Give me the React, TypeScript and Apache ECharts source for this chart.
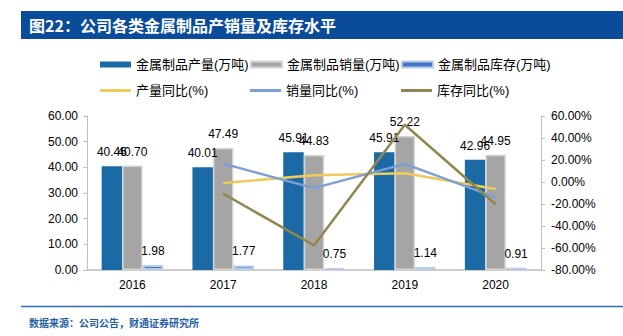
import React, { useEffect, useRef } from "react";
import * as echarts from "echarts";

const categories = ["2016", "2017", "2018", "2019", "2020"];
const production = [40.46, 40.01, 45.91, 45.91, 42.96];
const sales = [40.7, 47.49, 44.83, 52.22, 44.95];
const stock = [1.98, 1.77, 0.75, 1.14, 0.91];
const productionYoY = [null, -0.9, 6.1, 7.9, -6.4];
const salesYoY = [null, 16.68, -5.6, 16.48, -13.92];
const stockYoY = [null, -10.61, -57.63, 52.0, -20.18];

const FONT = "'Liberation Sans', Arial, 'Noto Sans CJK SC', sans-serif";

export default function App() {
  const ref = useRef<HTMLDivElement>(null);
  useEffect(() => {
    if (!ref.current) return;
    const chart = echarts.init(ref.current, null, { renderer: "svg" });
    const labelCfg = {
      show: true,
      position: "top",
      distance: 8,
      fontSize: 12,
      color: "#000",
      fontFamily: FONT,
      formatter: (p: any) => Number(p.value).toFixed(2),
    };
    const legendBase = {
      orient: "horizontal",
      padding: 0,
      itemWidth: 31,
      itemGap: 5,
      textStyle: { fontSize: 13, color: "#000", fontFamily: FONT },
    };
    const legendItems = [
      { name: "金属制品产量(万吨)", left: 100, top: 58, line: false },
      { name: "金属制品销量(万吨)", left: 250, top: 58, line: false },
      { name: "金属制品库存(万吨)", left: 401, top: 58, line: false },
      { name: "产量同比(%)", left: 100, top: 84, line: true },
      { name: "销量同比(%)", left: 250, top: 84, line: true },
      { name: "库存同比(%)", left: 401, top: 84, line: true },
    ];
    chart.setOption({
      animation: false,
      backgroundColor: "#fff",
      textStyle: { fontFamily: FONT },
      legend: legendItems.map((l) => ({
        ...legendBase,
        left: l.left,
        top: l.top,
        itemHeight: l.line ? 3 : 6,
        data: [{ name: l.name, icon: "rect" }],
      })),
      grid: { left: 87, right: 82, top: 116, bottom: 66 },
      xAxis: {
        type: "category",
        data: categories,
        axisLine: { lineStyle: { color: "#bfbfbf", width: 1.5 } },
        axisTick: { show: false },
        axisLabel: { fontSize: 12, color: "#000", margin: 9, fontFamily: FONT },
      },
      yAxis: [
        {
          type: "value",
          min: 0,
          max: 60,
          interval: 10,
          splitLine: { show: false },
          axisLine: { show: true, lineStyle: { color: "#bfbfbf" } },
          axisTick: { show: true, length: 4, lineStyle: { color: "#bfbfbf" } },
          axisLabel: {
            fontSize: 12,
            color: "#000",
            margin: 9,
            fontFamily: FONT,
            formatter: (v: number) => v.toFixed(2),
          },
        },
        {
          type: "value",
          min: -80,
          max: 60,
          interval: 20,
          position: "right",
          splitLine: { show: false },
          axisLine: { show: true, lineStyle: { color: "#bfbfbf" } },
          axisTick: { show: true, length: 4, lineStyle: { color: "#bfbfbf" } },
          axisLabel: {
            fontSize: 12,
            color: "#000",
            margin: 10,
            fontFamily: FONT,
            formatter: (v: number) => v.toFixed(2) + "%",
          },
        },
      ],
      series: [
        {
          name: "金属制品产量(万吨)",
          type: "bar",
          data: production,
          barWidth: 20.5,
          barGap: "0%",
          itemStyle: { color: "#1b6aa5" },
          label: labelCfg,
        },
        {
          name: "金属制品销量(万吨)",
          type: "bar",
          data: sales,
          barWidth: 20.5,
          barGap: "0%",
          itemStyle: { color: "#a5a5a5", borderColor: "#d4d4d4", borderWidth: 1.5 },
          label: labelCfg,
        },
        {
          name: "金属制品库存(万吨)",
          type: "bar",
          data: stock,
          barWidth: 20.5,
          barGap: "0%",
          itemStyle: { color: "#4472c4", borderColor: "#b8cce8", borderWidth: 2 },
          label: labelCfg,
        },
        {
          name: "产量同比(%)",
          type: "line",
          yAxisIndex: 1,
          data: productionYoY,
          symbol: "none",
          lineStyle: { color: "#eecb5c", width: 2.5 },
          itemStyle: { color: "#eecb5c" },
        },
        {
          name: "销量同比(%)",
          type: "line",
          yAxisIndex: 1,
          data: salesYoY,
          symbol: "none",
          lineStyle: { color: "#7ba0d8", width: 2.5 },
          itemStyle: { color: "#7ba0d8" },
        },
        {
          name: "库存同比(%)",
          type: "line",
          yAxisIndex: 1,
          data: stockYoY,
          symbol: "none",
          lineStyle: { color: "#928650", width: 2.5 },
          itemStyle: { color: "#928650" },
        },
      ],
      graphic: [
        {
          type: "rect",
          shape: { x: 21, y: 11, width: 602, height: 28 },
          style: { fill: "#0b4c9a" },
        },
        {
          type: "text",
          x: 29,
          y: 25,
          style: {
            text: "图22：公司各类金属制品产销量及库存水平",
            fill: "#fff",
            fontSize: 16,
            fontWeight: "bold",
            fontFamily: "'Noto Sans CJK SC', sans-serif",
            verticalAlign: "middle",
          },
        },
        {
          type: "line",
          shape: { x1: 21, y1: 306.5, x2: 623, y2: 306.5 },
          style: { stroke: "#2f6db5", lineWidth: 1.5 },
        },
        {
          type: "text",
          x: 29,
          y: 322,
          style: {
            text: "数据来源：公司公告，财通证券研究所",
            fill: "#1f5ea8",
            fontSize: 10,
            fontWeight: "bold",
            fontFamily: "'Noto Sans CJK SC', sans-serif",
            verticalAlign: "middle",
          },
        },
      ],
    });
    return () => chart.dispose();
  }, []);
  return (
    <div
      ref={ref}
      style={{ position: "fixed", left: 0, top: 0, width: 623, height: 336, background: "#fff" }}
    />
  );
}
